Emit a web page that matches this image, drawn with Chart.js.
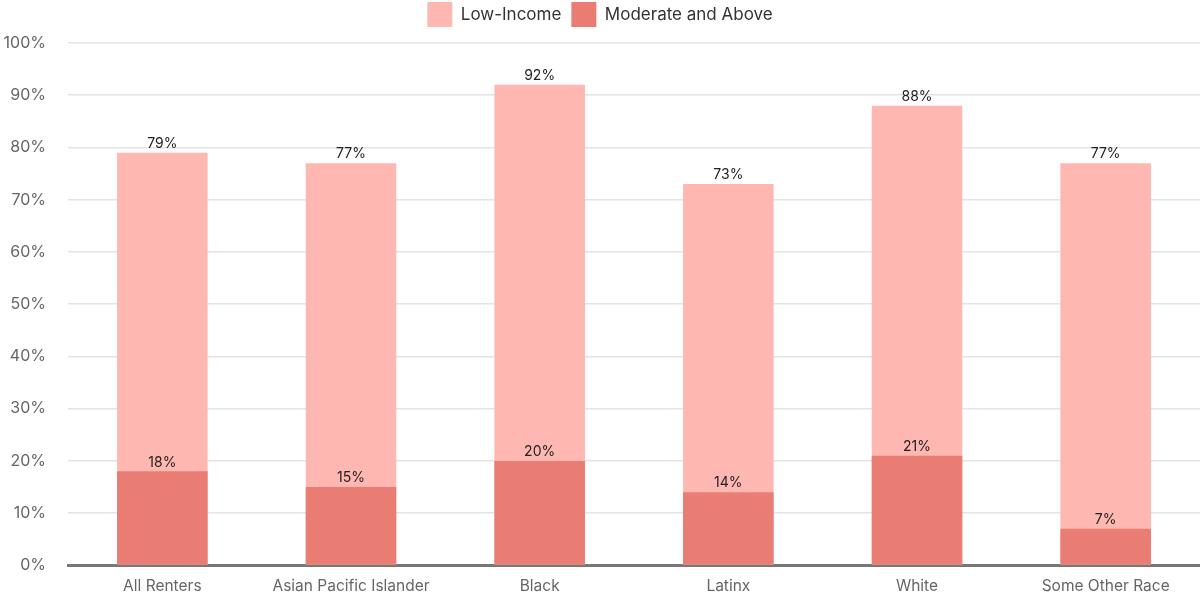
<!DOCTYPE html>
<html>
<head>
<meta charset="utf-8">
<script src="https://cdn.jsdelivr.net/npm/chart.js@4"></script>
<style>
  html, body { margin: 0; padding: 0; background: #fff; }
  #wrap { width: 1200px; height: 597px; }
</style>
</head>
<body>
<div id="wrap"><canvas id="chart-renters"></canvas></div>
<script>
var categories = ["All Renters", "Asian Pacific Islander", "Black", "Latinx", "White", "Some Other Race"];
var lowIncome = [79, 77, 92, 73, 88, 77];
var moderateAbove = [18, 15, 20, 14, 21, 7];
var yTicks = [0, 10, 20, 30, 40, 50, 60, 70, 80, 90, 100];

var FONT = "Inter, 'Noto Sans', sans-serif";

// writes the percentage just above the top of each bar
var barLabels = {
  id: 'barLabels',
  afterDatasetsDraw: function(chart) {
    var ctx = chart.ctx;
    ctx.save();
    ctx.font = "14px " + FONT;
    ctx.fillStyle = "#222";
    ctx.textAlign = "center";
    ctx.textBaseline = "bottom";
    chart.data.datasets.forEach(function(ds, i) {
      var meta = chart.getDatasetMeta(i);
      meta.data.forEach(function(bar, j) {
        ctx.fillText(ds.data[j] + "%", bar.x, bar.y - 2);
      });
    });
    ctx.restore();
  }
};

// a bit more room under the legend
var legendGap = {
  id: 'legendGap',
  beforeInit: function(chart) {
    var fit = chart.legend.fit;
    chart.legend.fit = function() {
      fit.bind(chart.legend)();
      this.height += 6;
    };
  }
};

function initChart() {
  var ctx = document.getElementById("chart-renters").getContext("2d");
  new Chart(ctx, {
    type: "bar",
    data: {
      labels: categories,
      datasets: [{
        label: "Low-Income",
        data: lowIncome,
        backgroundColor: "#FFB8B1",
        barPercentage: 0.8,
        categoryPercentage: 0.6,
        order: 1
      }, {
        label: "Moderate and Above",
        data: moderateAbove,
        backgroundColor: "#E97C73",
        barPercentage: 0.8,
        categoryPercentage: 0.6,
        order: 0
      }]
    },
    options: {
      responsive: true,
      maintainAspectRatio: false,
      animation: false,
      layout: { padding: { left: 0, right: 0, top: -8, bottom: 0 } },
      plugins: {
        legend: {
          position: "top",
          labels: {
            boxWidth: 25,
            boxHeight: 25,
            padding: 10,
            color: "#333",
            font: { family: FONT, size: 17 },
            sort: function(a, b) { return a.datasetIndex - b.datasetIndex; }
          }
        },
        tooltip: { enabled: false }
      },
      scales: {
        x: {
          stacked: true,
          grid: { display: false },
          border: { color: "#777", width: 3 },
          afterFit: function(axis) { axis.height = 31; },
          ticks: { color: "#666", padding: 4, font: { family: FONT, size: 15.5 } }
        },
        y: {
          stacked: false,
          min: 0,
          max: 100,
          afterBuildTicks: function(axis) {
            axis.ticks = yTicks.map(function(v) { return { value: v }; });
          },
          afterFit: function(axis) { axis.width = 68; },
          grid: { color: "#e4e4e4", lineWidth: 1.5, tickLength: 0 },
          border: { display: false },
          ticks: {
            color: "#666",
            padding: 22,
            font: { family: FONT, size: 16 },
            callback: function(v) { return v + "%"; }
          }
        }
      }
    },
    plugins: [barLabels, legendGap]
  });
}

initChart();
</script>
</body>
</html>
